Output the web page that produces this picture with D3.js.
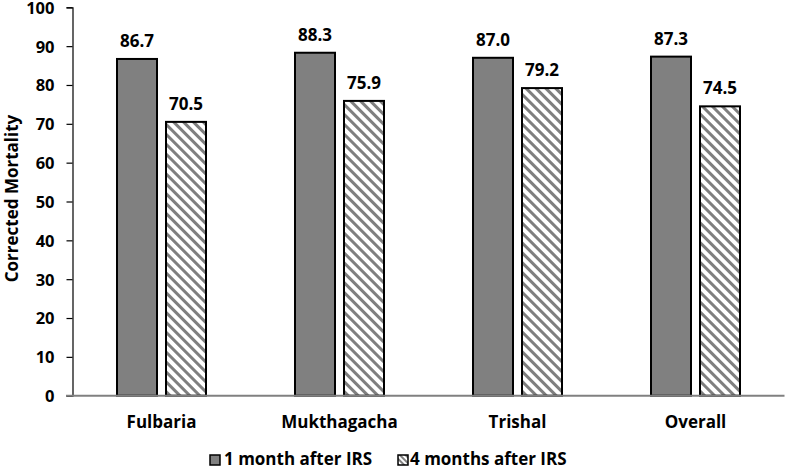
<!DOCTYPE html>
<html><head><meta charset="utf-8">
<script src="https://cdn.jsdelivr.net/npm/d3@7"></script>
<style>body{margin:0;background:#fff}svg{display:block}text{font-family:"Open Sans",sans-serif;font-weight:bold;fill:#000}</style>
</head><body>
<script>
const categories = ["Fulbaria","Mukthagacha","Trishal","Overall"];
const series1Name = "1 month after IRS";
const series2Name = "4 months after IRS";
const month1 = [86.7, 88.3, 87.0, 87.3];
const month4 = [70.5, 75.9, 79.2, 74.5];
const yTicks = [0,10,20,30,40,50,60,70,80,90,100];

const W = 785, H = 469;
const FONT = '"Open Sans",sans-serif';
const svg = d3.select("body").append("svg").attr("width", W).attr("height", H);
const defs = svg.append("defs");
const pat = defs.append("pattern").attr("id","hatch").attr("patternUnits","userSpaceOnUse")
  .attr("width",7).attr("height",7).attr("patternTransform","rotate(-45)");
pat.append("rect").attr("width",7).attr("height",7).attr("fill","#fff");
pat.append("rect").attr("x",0).attr("y",0).attr("width",3).attr("height",7).attr("fill","#7f7f7f");
const patL = defs.append("pattern").attr("id","hatchL").attr("patternUnits","userSpaceOnUse")
  .attr("width",4).attr("height",4).attr("patternTransform","rotate(-45)");
patL.append("rect").attr("width",4).attr("height",4).attr("fill","#fff");
patL.append("rect").attr("width",2).attr("height",4).attr("fill","#7f7f7f");

const x0 = 72.5, x1 = 784.5, yBase = 395.7, yTop = 7.3;
const x = d3.scaleBand().domain(categories).range([x0, x1]).padding(0);
const y = d3.scaleLinear().domain([0,100]).range([yBase, yTop]);

// y axis
const yAxis = d3.axisLeft(y).tickValues(yTicks).tickSize(6).tickPadding(12).tickFormat(d3.format("d"));
const gy = svg.append("g").attr("transform",`translate(${x0},0)`).call(yAxis);
gy.select(".domain").attr("stroke","#000").attr("stroke-width",1.2);
gy.selectAll(".tick line").attr("stroke","#000").attr("stroke-width",1.2);
gy.selectAll(".tick text").attr("font-size",16.5).attr("font-family",FONT).attr("font-weight","bold").attr("fill","#000")
  .attr("dy","0.36em");

// bars
const bw = 40, gap = 4.5;
const groups = svg.append("g");
categories.forEach((c,i) => {
  const cx = x(c) + x.bandwidth()/2;
  groups.append("rect").attr("x", cx - gap - bw).attr("y", y(month1[i])).attr("width", bw)
    .attr("height", yBase - y(month1[i])).attr("fill","#808080").attr("stroke","#000").attr("stroke-width",2);
  groups.append("rect").attr("x", cx + gap).attr("y", y(month4[i])).attr("width", bw)
    .attr("height", yBase - y(month4[i])).attr("fill","url(#hatch)").attr("stroke","#000").attr("stroke-width",2);
  groups.append("text").attr("x", cx - gap - bw/2).attr("y", y(month1[i]) - 12).attr("text-anchor","middle")
    .attr("font-size",17).text(month1[i].toFixed(1));
  groups.append("text").attr("x", cx + gap + bw/2).attr("y", y(month4[i]) - 12).attr("text-anchor","middle")
    .attr("font-size",17).text(month4[i].toFixed(1));
});

// x axis
const xAxis = d3.axisBottom(x).tickSize(0).tickPadding(20);
const gx = svg.append("g").attr("transform",`translate(0,${yBase})`).call(xAxis);
gx.select(".domain").remove();
gx.selectAll(".tick text").attr("font-size",17).attr("font-family",FONT).attr("font-weight","bold").attr("fill","#000");
svg.append("line").attr("x1",66).attr("x2",x1).attr("y1",yBase).attr("y2",yBase).attr("stroke","#808080").attr("stroke-width",2);

// y title
svg.append("text").attr("transform",`translate(18,${(117+280)/2}) rotate(-90)`).attr("text-anchor","middle")
  .attr("font-size",17).text("Corrected Mortality");

// legend
const leg = svg.append("g");
leg.append("rect").attr("x",210).attr("y",455).attr("width",10).attr("height",10).attr("fill","#808080").attr("stroke","#000").attr("stroke-width",1.5);
leg.append("text").attr("x",224).attr("y",465).attr("font-size",17).text(series1Name);
leg.append("rect").attr("x",398).attr("y",455).attr("width",10).attr("height",10).attr("fill","url(#hatchL)").attr("stroke","#000").attr("stroke-width",1.5);
leg.append("text").attr("x",410).attr("y",465).attr("font-size",17).text(series2Name);
</script>
</body></html>
